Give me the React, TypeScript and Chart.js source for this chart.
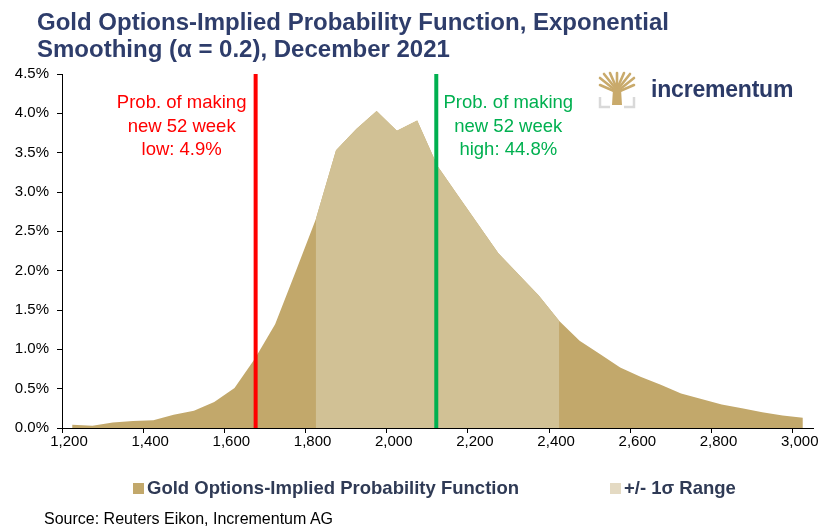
import React, { useEffect, useRef } from "react";
import { Chart, registerables } from "chart.js";

Chart.register(...registerables);

// ---- data ----
const priceLevels = [
  1225, 1275, 1325, 1375, 1425, 1475, 1525, 1575, 1625, 1675,
  1725, 1775, 1825, 1875, 1925, 1975, 2025, 2075, 2125, 2175,
  2225, 2275, 2325, 2375, 2425, 2475, 2525, 2575, 2625, 2675,
  2725, 2775, 2825, 2875, 2925, 2975, 3025,
];
const probabilityPct = [
  0.04, 0.03, 0.07, 0.09, 0.1, 0.17, 0.22, 0.33, 0.51, 0.88,
  1.32, 1.98, 2.65, 3.53, 3.8, 4.03, 3.78, 3.91, 3.33, 2.96,
  2.59, 2.22, 1.95, 1.68, 1.36, 1.11, 0.94, 0.77, 0.65, 0.55,
  0.44, 0.37, 0.3, 0.25, 0.2, 0.16, 0.13,
];
const sigmaLow = 1825;
const sigmaHigh = 2425;
const lowLineX = 1677;
const highLineX = 2122;
const xTickValues = [1200, 1400, 1600, 1800, 2000, 2200, 2400, 2600, 2800, 3000];
const yTickValues = [0, 0.5, 1, 1.5, 2, 2.5, 3, 3.5, 4, 4.5];
const lowNote = ["Prob. of making", "new 52 week", "low: 4.9%"];
const highNote = ["Prob. of making", "new 52 week", "high: 44.8%"];
const legendLabels = ["Gold Options-Implied Probability Function", "+/- 1\u03c3 Range"];
const titleLines = ["Gold Options-Implied Probability Function, Exponential", "Smoothing (\u03b1 = 0.2), December 2021"];
const sourceText = "Source: Reuters Eikon, Incrementum AG";

const FONT = '"Liberation Sans", Arial, sans-serif';
const DARK = "#C2A86B";
const LIGHT = "#D1C195";
const LIGHT_SWATCH = "#E4DAC3";
const NAVY = "#2E3D6B";
const RED = "#FF0000";
const GREEN = "#00B050";

export default function App() {
  const ref = useRef<HTMLCanvasElement | null>(null);

  useEffect(() => {
    document.body.style.margin = "0";
    const full = priceLevels.map((p, i) => ({ x: p, y: probabilityPct[i] }));
    const range = priceLevels.map((p, i) => ({
      x: p,
      y: p >= sigmaLow && p <= sigmaHigh ? probabilityPct[i] : null,
    }));

    const notes = {
      id: "notes",
      afterDatasetsDraw(chart: any) {
        const ctx = chart.ctx;
        const xs = chart.scales.x;
        const top = chart.chartArea.top;
        ctx.save();
        ctx.font = `18.5px ${FONT}`;
        ctx.textAlign = "center";
        ctx.textBaseline = "middle";
        const draw = (lines: string[], cx: number, color: string) => {
          ctx.fillStyle = color;
          lines.forEach((t, k) => ctx.fillText(t, cx, top + 29 + k * 23.5));
        };
        draw(lowNote, xs.getPixelForValue(lowLineX) - 74, RED);
        draw(highNote, xs.getPixelForValue(highLineX) + 72, GREEN);
        ctx.restore();
      },
    };

    const chart = new Chart(ref.current as HTMLCanvasElement, {
      type: "line",
      data: {
        datasets: [
          {
            label: "low",
            data: [{ x: lowLineX, y: 0 }, { x: lowLineX, y: 4.5 }],
            borderColor: RED,
            borderWidth: 4,
            pointRadius: 0,
            fill: false,
            order: 0,
          },
          {
            label: "high",
            data: [{ x: highLineX, y: 0 }, { x: highLineX, y: 4.5 }],
            borderColor: GREEN,
            borderWidth: 4,
            pointRadius: 0,
            fill: false,
            order: 0,
          },
          {
            label: legendLabels[1],
            data: range as any,
            backgroundColor: LIGHT,
            borderWidth: 0,
            borderColor: LIGHT,
            pointRadius: 0,
            fill: "origin",
            spanGaps: false,
            order: 1,
          },
          {
            label: legendLabels[0],
            data: full,
            backgroundColor: DARK,
            borderWidth: 0,
            borderColor: DARK,
            pointRadius: 0,
            fill: "origin",
            order: 2,
          },
        ],
      },
      options: {
        responsive: false,
        animation: false,
        devicePixelRatio: 1,
        layout: { padding: { top: 74, right: 17, bottom: 71, left: 0 } },
        plugins: { legend: { display: false }, tooltip: { enabled: false }, title: { display: false } },
        elements: { line: { tension: 0 } },
        scales: {
          x: {
            type: "linear",
            min: 1200,
            max: 3050,
            afterBuildTicks: (s: any) => {
              s.ticks = xTickValues.map((v) => ({ value: v }));
            },
            afterFit: (s: any) => {
              s.height = 30;
            },
            ticks: {
              autoSkip: false,
              maxRotation: 0,
              padding: 0,
              labelOffset: 7,
              color: "#000",
              font: { family: FONT, size: 15 },
              callback: (v: any) => Number(v).toLocaleString("en-US"),
            },
            grid: { drawOnChartArea: false, drawTicks: true, tickLength: 5, color: "#000" },
            border: { color: "#000", width: 1 },
          },
          y: {
            min: 0,
            max: 4.5,
            afterBuildTicks: (s: any) => {
              s.ticks = yTickValues.map((v) => ({ value: v }));
            },
            afterFit: (s: any) => {
              s.width = 62;
            },
            ticks: {
              padding: 8,
              color: "#000",
              font: { family: FONT, size: 15 },
              callback: (v: any) => Number(v).toFixed(1) + "%",
            },
            grid: { drawOnChartArea: false, drawTicks: true, tickLength: 5, color: "#000" },
            border: { color: "#000", width: 1 },
          },
        },
      },
      plugins: [notes],
    });
    return () => chart.destroy();
  }, []);

  return (
    <div style={{ position: "absolute", left: 0, top: 0, width: 830, height: 529, background: "#fff", overflow: "hidden" }}>
      <canvas ref={ref} width={830} height={529} style={{ position: "absolute", left: 0, top: 0, width: 830, height: 529 }} />
      <div style={{ position: "absolute", left: 37, top: 8, font: `bold 24px ${FONT}`, lineHeight: "27px", color: NAVY, whiteSpace: "nowrap" }}>
        {titleLines.map((t) => (
          <div key={t}>{t}</div>
        ))}
      </div>
      <svg style={{ position: "absolute", left: 597, top: 69 }} width={40} height={40} viewBox="0 0 40 40">
        <g stroke="#C9AA6B" strokeWidth={2.6} strokeLinecap="round" fill="none">
          <path d="M20 22 L20 4" />
          <path d="M20 20 L13 4" />
          <path d="M20 20 L27 4" />
          <path d="M19 20 L7 5" />
          <path d="M21 20 L33 5" />
          <path d="M18 21 L3 9" />
          <path d="M22 21 L37 9" />
          <path d="M17 22 L3 16" />
          <path d="M23 22 L37 16" />
        </g>
        <path d="M16 20 L24 20 L25 36 L15 36 Z" fill="#C9AA6B" />
        <g stroke="#D9D9D9" strokeWidth={2.5} fill="none">
          <path d="M3 28 L3 38 L13 38" />
          <path d="M37 28 L37 38 L27 38" />
        </g>
      </svg>
      <div style={{ position: "absolute", left: 651, top: 76, font: `bold 23px ${FONT}`, color: "#2B3A67", letterSpacing: "-0.2px", whiteSpace: "nowrap" }}>
        incrementum
      </div>
      <div style={{ position: "absolute", left: 133, top: 476, display: "flex", alignItems: "center", font: `bold 18.5px ${FONT}`, color: "#2F3A55", whiteSpace: "nowrap", lineHeight: "24px" }}>
        <span style={{ display: "inline-block", width: 11, height: 11, background: DARK, marginRight: 3 }} />
        {legendLabels[0]}
      </div>
      <div style={{ position: "absolute", left: 610, top: 476, display: "flex", alignItems: "center", font: `bold 18.5px ${FONT}`, color: "#2F3A55", whiteSpace: "nowrap", lineHeight: "24px" }}>
        <span style={{ display: "inline-block", width: 11, height: 11, background: LIGHT_SWATCH, marginRight: 3 }} />
        {legendLabels[1]}
      </div>
      <div style={{ position: "absolute", left: 44, top: 510, font: `16px ${FONT}`, color: "#000", whiteSpace: "nowrap", lineHeight: "18px" }}>
        {sourceText}
      </div>
    </div>
  );
}
